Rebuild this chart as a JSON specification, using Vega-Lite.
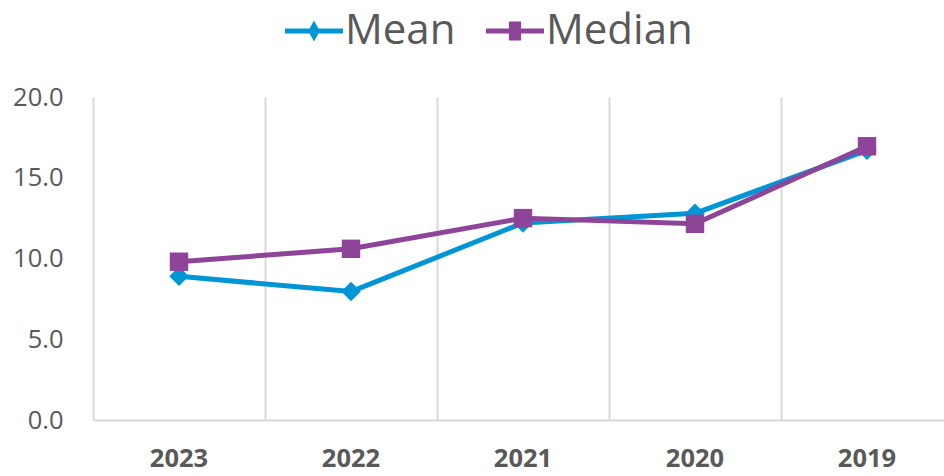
{
  "$schema": "https://vega.github.io/schema/vega-lite/v6.json",
  "autosize": {"type": "none"},
  "padding": {"left": 93, "top": 97, "right": 0, "bottom": 56},
  "width": 860,
  "height": 323,
  "background": "white",
  "data": {
    "values": [
      {"year": "2023", "series": "Mean", "value": 8.9},
      {"year": "2022", "series": "Mean", "value": 7.95},
      {"year": "2021", "series": "Mean", "value": 12.2},
      {"year": "2020", "series": "Mean", "value": 12.8},
      {"year": "2019", "series": "Mean", "value": 16.7},
      {"year": "2023", "series": "Median", "value": 9.8},
      {"year": "2022", "series": "Median", "value": 10.6},
      {"year": "2021", "series": "Median", "value": 12.5},
      {"year": "2020", "series": "Median", "value": 12.15},
      {"year": "2019", "series": "Median", "value": 16.95}
    ]
  },
  "encoding": {
    "x": {
      "field": "year",
      "type": "nominal",
      "sort": ["2023", "2022", "2021", "2020", "2019"],
      "scale": {"type": "band", "paddingInner": 0, "paddingOuter": 0},
      "axis": {
        "title": null,
        "labelAngle": 0,
        "bandPosition": 0,
        "grid": true,
        "gridColor": "#d9d9d9",
        "gridWidth": 2,
        "ticks": false,
        "domain": true,
        "domainColor": "#d9d9d9",
        "domainWidth": 2,
        "labelFont": "Open Sans",
        "labelFontWeight": "bold",
        "labelFontSize": 25.5,
        "labelColor": "#595959",
        "labelPadding": 26,
        "labelAlign": "center"
      }
    },
    "y": {
      "field": "value",
      "type": "quantitative",
      "scale": {"domain": [0, 20], "nice": false, "zero": true},
      "axis": {
        "title": null,
        "values": [0, 5, 10, 15, 20],
        "format": ".1f",
        "grid": false,
        "domain": false,
        "ticks": false,
        "labelFont": "Open Sans",
        "labelFontSize": 25.5,
        "labelColor": "#595959",
        "labelPadding": 30
      }
    },
    "color": {
      "field": "series",
      "type": "nominal",
      "scale": {"domain": ["Mean", "Median"], "range": ["#0096d6", "#8e4599"]},
      "legend": {
        "title": null,
        "orient": "none",
        "direction": "horizontal",
        "legendX": 192,
        "legendY": -95,
        "symbolSize": 3364,
        "symbolOpacity": 1,
        "symbolStrokeWidth": 0,
        "labelFont": "Open Sans",
        "labelFontSize": 42,
        "labelColor": "#595959",
        "labelOffset": 2,
        "columnPadding": 30,
        "labelLimit": 400,
        "encode": {
          "symbols": {
            "update": {
              "shape": {"signal": "datum.value === 'Mean' ? 'M-1,-0.085L1,-0.085L1,0.085L-1,0.085ZM0,-0.36L0.2,0L0,0.36L-0.2,0Z' : 'M-1,-0.085L1,-0.085L1,0.085L-1,0.085ZM-0.21,-0.33L0.21,-0.33L0.21,0.33L-0.21,0.33Z'"},
              "fill": {"signal": "datum.value === 'Mean' ? '#0096d6' : '#8e4599'"},
              "strokeWidth": {"value": 0},
              "opacity": {"value": 1},
              "fillOpacity": {"value": 1}
            }
          }
        }
      }
    }
  },
  "layer": [
    {
      "mark": {"type": "line", "strokeWidth": 5, "strokeJoin": "round"},
      "encoding": {}
    },
    {
      "transform": [{"filter": "datum.series === 'Mean'"}],
      "mark": {"type": "point", "filled": true, "opacity": 1, "size": 380, "shape": "diamond"},
      "encoding": {}
    },
    {
      "transform": [{"filter": "datum.series === 'Median'"}],
      "mark": {"type": "point", "filled": true, "opacity": 1, "size": 340, "shape": "square"},
      "encoding": {}
    }
  ],
  "config": {"view": {"stroke": null}}
}
